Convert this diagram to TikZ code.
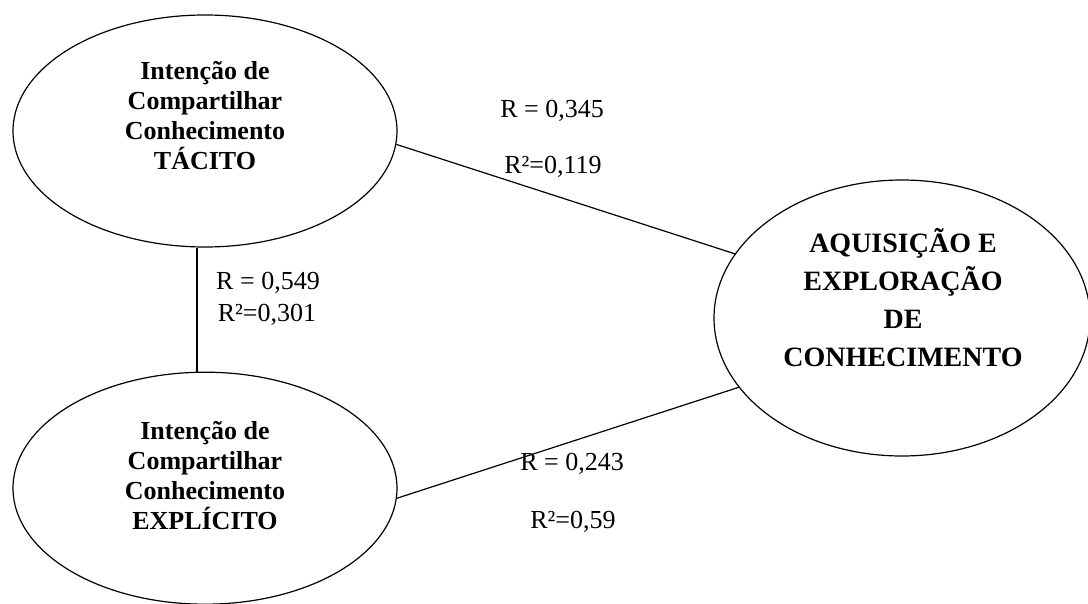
\documentclass[tikz,border=0pt]{standalone}
\usepackage{fontspec}
\setmainfont{Liberation Serif}
\usetikzlibrary{positioning,shapes.geometric}

\begin{document}
\begin{tikzpicture}[
  x=0.5pt, y=-0.5pt,
  node distance=62pt,
  construct/.style={
    draw, ellipse, line width=0.6pt, inner sep=0pt
  },
  smallconstruct/.style={construct, minimum width=192pt, minimum height=116pt},
  bigconstruct/.style={construct, minimum width=188pt, minimum height=138pt},
  ctext/.style={
    font=\fontsize{13}{15}\selectfont\bfseries, align=center, inner sep=0pt
  },
  btext/.style={
    font=\fontsize{14}{19}\selectfont\bfseries, align=center, inner sep=0pt
  },
  coef/.style={font=\fontsize{13}{15}\selectfont, inner sep=0pt},
  link/.style={line width=0.6pt}
]
  \useasboundingbox (0,0) rectangle (1088,604);

  \node[smallconstruct] (tacito) at (205,131) {};
  \node[smallconstruct, below=of tacito] (explicito) {};
  \node[bigconstruct] (aquisicao) at (902,318) {};

  \node[ctext] (tacitotxt) at (205,116) {Intenção de\\Compartilhar\\Conhecimento\\TÁCITO};
  \node[ctext] (explicitotxt) at (205,476) {Intenção de\\Compartilhar\\Conhecimento\\EXPLÍCITO};
  \node[btext] (aquisicaotxt) at (903,298) {AQUISIÇÃO E\\EXPLORAÇÃO\\DE\\CONHECIMENTO};

  \draw[link] (tacito.-4.5) -- (aquisicao.159);
  \draw[link] ([xshift=-4pt]tacito.south) -- ([xshift=-4pt]explicito.north);
  \draw[link] (explicito.-3) -- (aquisicao.203);

  \node[coef] (rtacito) at (552,111) {R = 0,345};
  \node[coef] (rsqtacito) at (553,167) {R²=0,119};
  \node[coef] (rmutual) at (268,283) {R = 0,549};
  \node[coef] (rsqmutual) at (267,315) {R²=0,301};
  \node[coef] (rexplicito) at (572,464) {R = 0,243};
  \node[coef] (rsqexplicito) at (573,522) {R²=0,59};
\end{tikzpicture}
\end{document}
